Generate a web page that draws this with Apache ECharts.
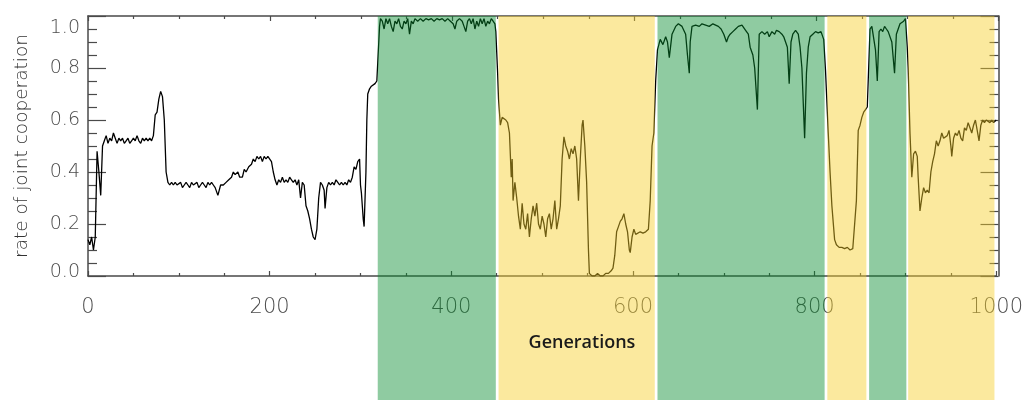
<!DOCTYPE html>
<html><head><meta charset="utf-8">
<script src="https://cdn.jsdelivr.net/npm/echarts@6/dist/echarts.min.js"></script>
<style>html,body{margin:0;padding:0;background:#fff}#c{width:1026px;height:400px}</style>
</head><body><div id="c"></div>
<script>
const generations = [
0,2,4,6,8,10,12,14,16,18,20,
22,24,26,28,30,32,34,36,38,40,42,44,46,48,50,52,54,56,58,60,62,64,66,68,70,72,
74,76,78,80,82,84,86,88,
90,92,94,96,98,100,102,104,106,108,110,112,114,116,118,120,122,124,126,128,130,132,134,136,138,140,143,146,149,152,155,158,160,162,165,167,170,172,174,177,180,182,184,186,188,190,192,194,196,198,200,202,204,206,208,210,212,214,216,218,220,222,224,226,228,230,232,234,236,238,240,242,244,246,248,250,252,254,256,258,260,261,263,265,267,269,271,273,275,277,279,281,283,285,287,289,291,293,295,297,299,300,301,303,304,306,307,308,310,312,314,316,318,319,321,322,
324,326,328,330,332,334,336,338,340,342,344,346,348,350,352,354,356,358,360,363,366,369,372,375,378,381,384,387,390,393,396,399,402,404,406,409,412,414,416,418,420,422,424,426,428,430,432,434,436,438,440,442,444,446,448,449,
451,452,454,456,458,460,462,464,466,467,468,470,472,474,476,478,480,482,484,486,488,490,492,494,496,498,500,502,504,506,508,510,512,514,516,518,520,522,524,526,528,530,532,534,536,538,540,542,544,545,547,549,551,552,555,558,561,564,567,570,573,576,578,580,582,584,586,588,590,592,594,596,597,599,601,603,605,608,611,614,617,619,621,623,625,627,
630,633,636,638,640,643,647,650,654,658,660,662,663,665,669,673,676,680,684,688,691,694,697,700,703,705,707,710,713,716,720,724,727,729,732,734,737,739,742,745,748,750,753,756,758,761,764,766,768,770,772,774,776,779,782,784,786,789,791,793,795,798,801,804,807,810,812,
815,817,819,822,824,827,830,833,836,839,842,844,846,848,850,852,854,856,858,
860,861,863,865,867,869,871,873,875,877,879,881,883,885,888,890,892,894,896,898,900,
902,903,905,907,909,911,913,914,916,918,920,922,924,926,928,930,932,934,936,938,940,942,944,946,948,950,951,953,955,957,959,961,963,965,967,969,971,973,975,977,979,981,983,985,987,989,991,993,995,997,1000
];
const cooperation = [
0.14,0.12,0.15,0.10,0.15,0.48,0.40,0.31,0.50,0.52,0.54,
0.51,0.53,0.52,0.55,0.53,0.51,0.53,0.52,0.53,0.51,0.52,0.53,0.51,0.52,0.53,0.52,0.54,0.52,0.51,0.53,0.52,0.53,0.52,0.53,0.52,0.54,
0.62,0.63,0.68,0.71,0.69,0.60,0.40,0.36,
0.35,0.36,0.35,0.36,0.35,0.35,0.36,0.34,0.35,0.36,0.35,0.34,0.36,0.35,0.35,0.36,0.34,0.35,0.36,0.35,0.34,0.36,0.35,0.36,0.35,0.34,0.31,0.35,0.35,0.36,0.37,0.38,0.40,0.39,0.40,0.38,0.38,0.41,0.40,0.42,0.43,0.45,0.44,0.46,0.45,0.46,0.44,0.46,0.45,0.46,0.46,0.44,0.40,0.37,0.35,0.37,0.36,0.38,0.36,0.37,0.36,0.38,0.37,0.36,0.37,0.35,0.37,0.30,0.36,0.35,0.27,0.25,0.22,0.18,0.15,0.14,0.18,0.30,0.36,0.35,0.33,0.26,0.34,0.36,0.35,0.36,0.35,0.37,0.36,0.35,0.36,0.35,0.36,0.35,0.37,0.36,0.38,0.42,0.41,0.44,0.45,0.35,0.32,0.22,0.19,0.40,0.60,0.70,0.72,0.73,0.73,0.74,0.75,0.82,0.96,0.99,
0.98,0.95,0.99,0.97,0.99,0.96,0.94,0.98,0.97,0.99,0.96,0.95,0.98,0.97,0.99,0.93,0.98,0.97,0.99,0.98,0.99,0.98,0.99,0.985,0.99,0.98,0.99,0.985,0.99,0.98,0.99,0.98,0.97,0.95,0.98,0.99,0.98,0.96,0.94,0.98,0.99,0.97,0.99,0.95,0.98,0.96,0.99,0.97,0.99,0.96,0.98,0.97,0.99,0.98,0.97,0.94,
0.78,0.68,0.58,0.61,0.61,0.60,0.59,0.55,0.38,0.45,0.29,0.36,0.30,0.23,0.18,0.28,0.20,0.18,0.24,0.15,0.22,0.27,0.23,0.28,0.20,0.18,0.23,0.20,0.15,0.22,0.24,0.18,0.22,0.29,0.18,0.22,0.27,0.45,0.535,0.50,0.48,0.45,0.49,0.47,0.50,0.45,0.29,0.45,0.58,0.60,0.50,0.36,0.10,0.01,0.00,0.00,0.01,0.00,0.00,0.01,0.01,0.02,0.03,0.08,0.17,0.19,0.21,0.22,0.24,0.20,0.17,0.10,0.09,0.15,0.18,0.16,0.165,0.17,0.165,0.17,0.18,0.29,0.50,0.55,0.75,0.87,
0.91,0.89,0.92,0.90,0.84,0.93,0.96,0.97,0.96,0.93,0.85,0.78,0.90,0.96,0.965,0.96,0.97,0.965,0.96,0.97,0.965,0.96,0.95,0.93,0.90,0.92,0.93,0.94,0.95,0.96,0.965,0.945,0.93,0.88,0.85,0.80,0.64,0.93,0.94,0.93,0.94,0.92,0.94,0.93,0.945,0.94,0.93,0.92,0.90,0.88,0.74,0.90,0.93,0.945,0.93,0.88,0.80,0.53,0.78,0.88,0.92,0.93,0.94,0.935,0.94,0.91,0.79,
0.55,0.40,0.27,0.14,0.12,0.11,0.11,0.105,0.11,0.10,0.105,0.10,0.29,0.56,0.58,0.61,0.63,0.64,0.65,
0.85,0.95,0.96,0.96,0.87,0.75,0.94,0.95,0.94,0.96,0.95,0.94,0.935,0.90,0.78,0.93,0.95,0.97,0.97,0.98,0.99,
0.88,0.80,0.55,0.38,0.47,0.48,0.46,0.38,0.25,0.30,0.34,0.32,0.33,0.32,0.40,0.44,0.47,0.52,0.50,0.52,0.55,0.53,0.535,0.54,0.56,0.50,0.46,0.53,0.55,0.54,0.56,0.53,0.52,0.57,0.56,0.59,0.57,0.55,0.58,0.60,0.56,0.52,0.58,0.60,0.59,0.60,0.60,0.59,0.60,0.59,0.60
];
const bandStart = [319, 452, 627, 814, 860, 903];
const bandEnd   = [449, 624, 811, 857, 901, 998];
const bandKind  = ['green', 'yellow', 'green', 'yellow', 'green', 'yellow'];
const xTickLabels = ['0', '200', '400', '600', '800', '1000'];
const yTickLabels = ['0.0', '0.2', '0.4', '0.6', '0.8', '1.0'];

const bandColors = { green: 'rgba(6,139,46,0.45)', yellow: 'rgba(246,206,39,0.45)' };
const axisColor = '#4a4a4a';
const labelFont = 'DejaVu Sans';

const chart = echarts.init(document.getElementById('c'));
const lineData = generations.map((g, i) => [g, cooperation[i]]);
const areaData = bandStart.map((s, i) => [
  { xAxis: s, yAxis: 1, itemStyle: { color: bandColors[bandKind[i]] } },
  { xAxis: bandEnd[i], y: '100%' }
]);

// frame axes of the second (overlaid) grid use a shifted range so that they stay on the top/right edges
function xAxisBase(pos, showLabel, gridIndex, offset) {
  return {
    type: 'value', gridIndex: gridIndex, position: pos, min: offset, max: offset + 1000, interval: 200,
    axisLine: { show: true, lineStyle: { color: axisColor, width: 1.5 } },
    axisTick: { show: true, inside: true, length: 5, lineStyle: { color: axisColor, width: 1.2 } },
    minorTick: { show: true, splitNumber: 4, length: 3, lineStyle: { color: axisColor, width: 1.2 } },
    splitLine: { show: false },
    axisLabel: {
      show: showLabel, margin: 21, fontSize: 21, color: '#4d4d4d', fontFamily: labelFont, fontWeight: 200,
      formatter: v => xTickLabels[Math.round((v - offset) / 200)] || ''
    }
  };
}
function yAxisBase(pos, showLabel, gridIndex, offset) {
  return {
    type: 'value', gridIndex: gridIndex, position: pos, min: offset, max: offset + 1, interval: 0.2,
    axisLine: { show: true, lineStyle: { color: axisColor, width: 1.5 } },
    axisTick: { show: true, inside: true, length: 18, lineStyle: { color: axisColor, width: 1.2 } },
    minorTick: { show: true, splitNumber: 4, length: 9, lineStyle: { color: axisColor, width: 1.2 } },
    splitLine: { show: false },
    axisLabel: {
      show: showLabel, margin: 8, fontSize: 19, color: '#4d4d4d', fontFamily: labelFont, fontWeight: 200,
      formatter: v => {
        const t = yTickLabels[Math.round((v - offset) / 0.2)] || '';
        if (Math.abs(v - offset) < 1e-9) return '{lo|' + t + '}';
        if (Math.abs(v - offset - 1) < 1e-9) return '{hi|' + t + '}';
        return t;
      },
      rich: {
        lo: { padding: [0, 0, 8, 0], fontSize: 19, color: '#4d4d4d', fontFamily: labelFont, fontWeight: 200 },
        hi: { padding: [24, 0, 0, 0], fontSize: 19, color: '#4d4d4d', fontFamily: labelFont, fontWeight: 200 }
      }
    }
  };
}

const xBottom = xAxisBase('bottom', true, 0, 0);
const xTop = xAxisBase('top', false, 1, 1000);
const yLeft = yAxisBase('left', true, 0, 0);
yLeft.name = 'rate of joint cooperation';
yLeft.nameLocation = 'middle';
yLeft.nameGap = 56;
yLeft.nameTextStyle = { fontFamily: labelFont, fontSize: 18.5, color: '#333', fontWeight: 200 };
const yRight = yAxisBase('right', false, 1, 1);

const gridRect = { left: 88, right: 27.5, top: 16, bottom: 124, containLabel: false };

chart.setOption({
  animation: false,
  title: {
    text: 'Generations', left: 577, top: 329, textAlign: 'center', z: 20,
    textStyle: { fontFamily: 'Open Sans', fontWeight: 600, fontSize: 18, color: '#1a1a1a' }
  },
  grid: [Object.assign({}, gridRect), Object.assign({}, gridRect)],
  xAxis: [xBottom, xTop],
  yAxis: [yLeft, yRight],
  series: [
    {
      type: 'line', xAxisIndex: 0, yAxisIndex: 0, data: lineData, showSymbol: false, z: 2,
      lineStyle: { color: '#000', width: 1.3 }
    },
    {
      type: 'line', xAxisIndex: 0, yAxisIndex: 0, data: [], clip: false, z: 10,
      markArea: { silent: true, z: 10, itemStyle: { borderWidth: 0 }, data: areaData }
    }
  ]
});
</script></body></html>
